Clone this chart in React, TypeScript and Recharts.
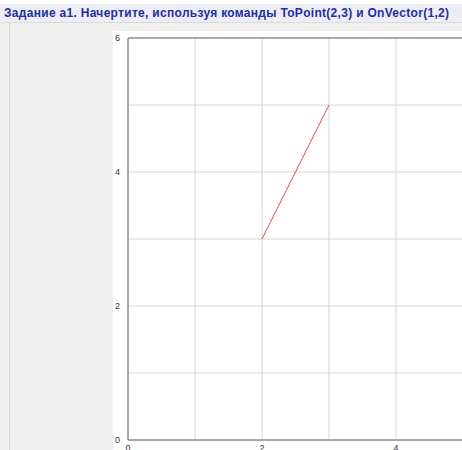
import { LineChart, Line, XAxis, YAxis, CartesianGrid, ReferenceLine } from "recharts";

const TITLE = "Задание a1. Начертите, используя команды ToPoint(2,3) и OnVector(1,2)";

// segment drawn by ToPoint(2,3) then OnVector(1,2)
const segX = [2, 3];
const segY = [3, 5];

const xTicks = [0, 1, 2, 3, 4, 5];
const yTicks = [0, 1, 2, 3, 4, 5, 6];

const data = segX.map((x, i) => ({ x, y: segY[i] }));

const evenOnly = (v: number) => (v % 2 === 0 ? String(v) : "");

export default function App() {
  return (
    <div
      style={{
        position: "relative",
        width: 462,
        height: 450,
        overflow: "hidden",
        background: "#f0f0f0",
        fontFamily: "Arial, 'Liberation Sans', sans-serif",
      }}
    >
      <style>{"body{margin:0}"}</style>
      <div style={{ position: "absolute", left: 0, top: 0, width: 462, height: 4, background: "#ffffff" }} />
      <div
        style={{
          position: "absolute",
          left: 0,
          top: 4,
          width: 462,
          height: 18,
          background: "#eceef4",
          borderBottom: "1px solid #d8dae0",
        }}
      >
        <div
          style={{
            position: "absolute",
            left: 4,
            top: 2,
            fontSize: 12,
            fontWeight: "bold",
            letterSpacing: 0.3,
            color: "#1f2f9f",
            whiteSpace: "nowrap",
          }}
        >
          {TITLE}
        </div>
      </div>
      <div style={{ position: "absolute", left: 9, top: 23, width: 1, height: 427, background: "#d4d4d4" }} />
      <div style={{ position: "absolute", left: 113, top: 31, width: 349, height: 419, background: "#ffffff" }} />
      <div style={{ position: "absolute", left: 113, top: 30 }}>
        <LineChart
          width={360}
          height={430}
          data={data}
          margin={{ top: 8, right: 10, bottom: 0, left: 0 }}
        >
          <CartesianGrid stroke="#d6d6d6" strokeWidth={1} />
          <XAxis
            type="number"
            dataKey="x"
            domain={[0, 5]}
            ticks={xTicks}
            tickFormatter={evenOnly}
            allowDataOverflow
            stroke="#666666"
            tickLine={false}
            tickMargin={-1}
            height={20}
            tick={{ fill: "#333333", fontSize: 9 }}
            interval={0}
          />
          <YAxis
            type="number"
            domain={[0, 6]}
            ticks={yTicks}
            tickFormatter={evenOnly}
            stroke="#666666"
            tickLine={false}
            tickMargin={2}
            width={15}
            tick={{ fill: "#333333", fontSize: 9 }}
            interval={0}
          />
          <ReferenceLine y={6} stroke="#666666" strokeWidth={1} />
          <Line
            type="linear"
            dataKey="y"
            stroke="#e04848"
            strokeWidth={1}
            dot={false}
            isAnimationActive={false}
          />
        </LineChart>
      </div>
    </div>
  );
}
